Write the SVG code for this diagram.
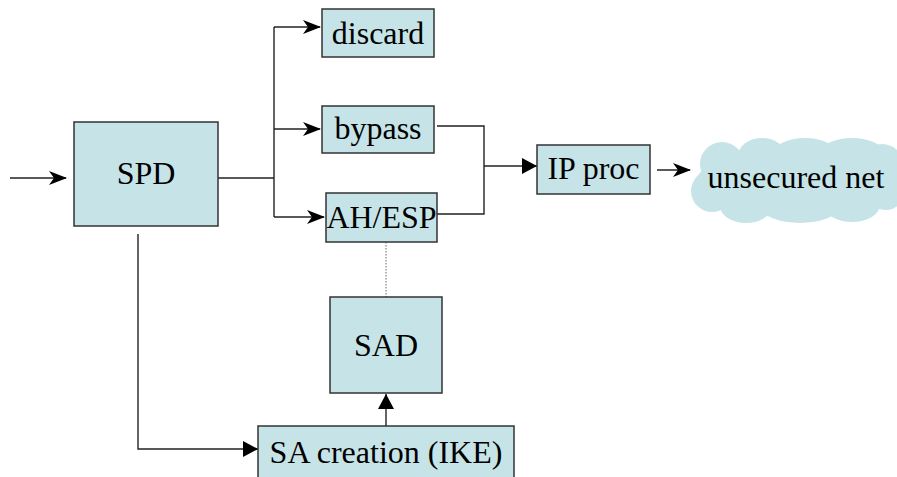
<svg xmlns="http://www.w3.org/2000/svg" width="897" height="477" viewBox="0 0 897 477">
  <style>
    .box { fill: #c6e4e8; stroke: #333; stroke-width: 1.5; }
    .lbl { font-family: "Liberation Serif", "Times New Roman", serif; font-size: 32px; fill: #000; text-anchor: middle; }
    .wire { fill: none; stroke: #222; stroke-width: 1.4; }
    .cloud { fill: #c6e4e8; }
  </style>
  <defs>
    <marker id="stealth" markerWidth="20" markerHeight="14" refX="17" refY="7" orient="auto" markerUnits="userSpaceOnUse">
      <path d="M0,0 L18,7 L0,14 L5,7 Z" fill="#000"/>
    </marker>
    <marker id="tri" markerWidth="16" markerHeight="16" refX="15" refY="8" orient="auto" markerUnits="userSpaceOnUse">
      <path d="M0,0 L15,8 L0,16 Z" fill="#000"/>
    </marker>
  </defs>

  <g id="connectors">
    <!-- incoming traffic -->
    <line class="wire" x1="10" y1="178" x2="66" y2="178" marker-end="url(#stealth)"/>
    <!-- SPD fan-out to the three actions -->
    <path class="wire" d="M218,178 H274"/>
    <path class="wire" d="M274,27 V217"/>
    <line class="wire" x1="274" y1="27" x2="320" y2="27" marker-end="url(#stealth)"/>
    <line class="wire" x1="274" y1="129" x2="320" y2="129" marker-end="url(#stealth)"/>
    <line class="wire" x1="274" y1="217" x2="324" y2="217" marker-end="url(#stealth)"/>
    <!-- bypass and AH/ESP merge into IP processing -->
    <path class="wire" d="M437,126 H484 V214 H437"/>
    <line class="wire" x1="484" y1="166" x2="537" y2="166" marker-end="url(#tri)"/>
    <!-- IP proc to network -->
    <line class="wire" x1="657" y1="170" x2="690" y2="170" marker-end="url(#stealth)"/>
    <!-- AH/ESP uses SAD -->
    <line x1="386" y1="242" x2="386" y2="297" stroke="#666" stroke-width="1" stroke-dasharray="1.5,1.5"/>
    <!-- SPD triggers SA creation -->
    <path class="wire" d="M138,234 V449 H258" marker-end="url(#tri)"/>
    <!-- SA creation fills SAD -->
    <line class="wire" x1="386" y1="426" x2="386" y2="394" marker-end="url(#tri)"/>
  </g>

  <g id="spd">
    <rect class="box" x="74" y="122" width="144" height="104"/>
    <text class="lbl" x="146" y="184">SPD</text>
  </g>
  <g id="discard">
    <rect class="box" x="322" y="9" width="112" height="48"/>
    <text class="lbl" x="378" y="44">discard</text>
  </g>
  <g id="bypass">
    <rect class="box" x="322" y="106" width="112" height="47"/>
    <text class="lbl" x="378" y="139">bypass</text>
  </g>
  <g id="ahesp">
    <rect class="box" x="326" y="193" width="111" height="49"/>
    <text class="lbl" x="381.5" y="228">AH/ESP</text>
  </g>
  <g id="ipproc">
    <rect class="box" x="537" y="145" width="113" height="49"/>
    <text class="lbl" x="593.5" y="179">IP proc</text>
  </g>
  <g id="unsecured-net">
    <g class="cloud">
      <ellipse cx="797" cy="181" rx="100" ry="34"/>
      <circle cx="722" cy="164" r="22"/>
      <ellipse cx="762" cy="156" rx="24" ry="18"/>
      <ellipse cx="805" cy="154" rx="32" ry="16"/>
      <ellipse cx="852" cy="153" rx="32" ry="15"/>
      <circle cx="882" cy="166" r="22"/>
      <circle cx="712" cy="191" r="21"/>
      <ellipse cx="746" cy="206" rx="26" ry="17"/>
      <ellipse cx="800" cy="208" rx="38" ry="15"/>
      <ellipse cx="852" cy="205" rx="28" ry="17"/>
      <circle cx="886" cy="192" r="18"/>
    </g>
    <text class="lbl" x="796" y="188">unsecured net</text>
  </g>
  <g id="sad">
    <rect class="box" x="330" y="297" width="112" height="96"/>
    <text class="lbl" x="386" y="356">SAD</text>
  </g>
  <g id="sa-creation">
    <rect class="box" x="258" y="426" width="256" height="60"/>
    <text class="lbl" x="386" y="463">SA creation (IKE)</text>
  </g>
</svg>
